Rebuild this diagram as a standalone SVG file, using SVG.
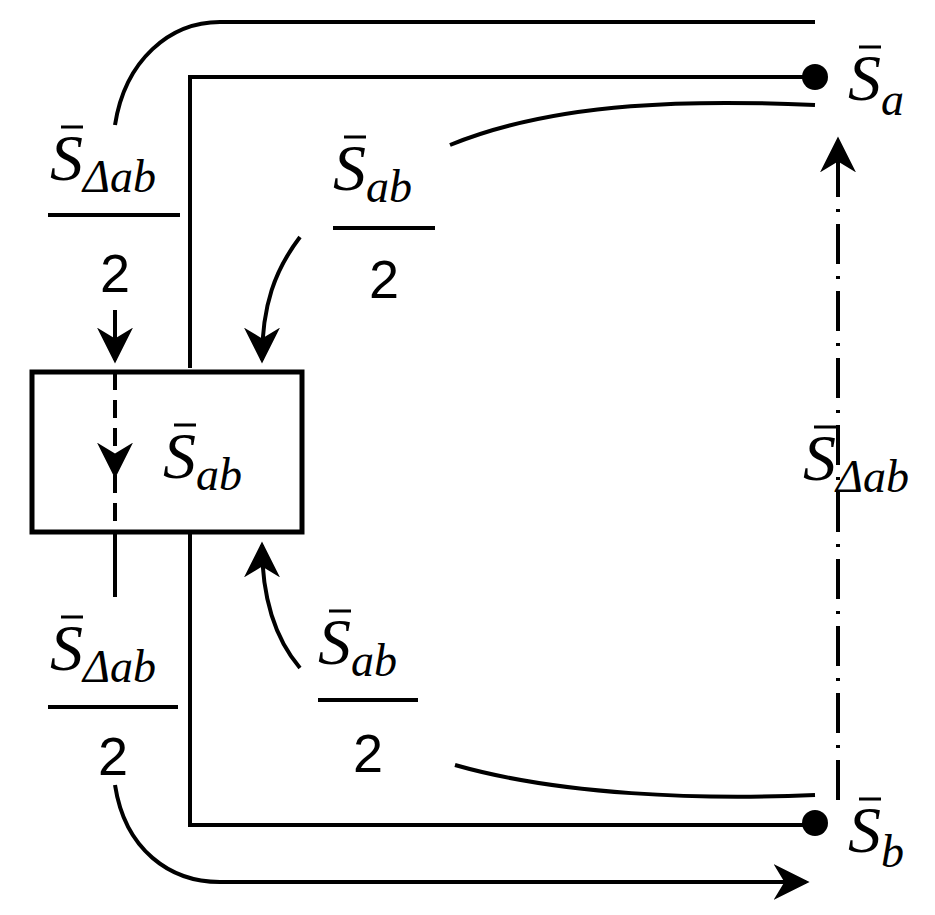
<svg xmlns="http://www.w3.org/2000/svg" width="935" height="915" viewBox="0 0 935 915">
<style>
.l{fill:none;stroke:#000;stroke-width:4}
.t{font-family:"Liberation Serif",serif;font-style:italic;font-size:66px}
.s{font-size:46px}
.n{font-family:"Liberation Sans",sans-serif;font-size:54px}
.b{stroke:#000;stroke-width:3}
</style>
<defs>
<marker id="A" viewBox="0 0 10 10" refX="9" refY="5" markerWidth="9" markerHeight="9" orient="auto"><path d="M0,0L10,5L0,10L3,5z"/></marker>
</defs>
<g id="connectors">
<path class="l" d="M115,125 C125,60 170,22 220,22 L815,22"/>
<path class="l" d="M190,368 L190,77 L815,77"/>
<path class="l" d="M450,145 C560,100 700,100 815,105"/>
<path class="l" d="M300,237 C275,270 262,305 262,360" marker-end="url(#A)"/>
<path class="l" d="M115,310 L115,360" marker-end="url(#A)"/>
<path class="l" d="M115,372 L115,475" stroke-dasharray="18,10" marker-end="url(#A)"/>
<path class="l" d="M115,475 L115,532" stroke-dasharray="18,10"/>
<path class="l" d="M115,532 L115,597"/>
<path class="l" d="M190,532 L190,825 L815,825"/>
<path class="l" d="M300,668 C272,635 262,590 262,545" marker-end="url(#A)"/>
<path class="l" d="M455,765 C560,795 700,800 815,795"/>
<path class="l" d="M115,785 C125,850 170,882 220,882 L806,882" marker-end="url(#A)"/>
<path class="l" d="M838,800 L838,140" stroke-dasharray="40,12,3,12" marker-end="url(#A)"/>
</g>
<g id="box"><rect x="32" y="372" width="270" height="160" fill="none" stroke="#000" stroke-width="5"/>
<text class="t" x="163" y="478">S<tspan class="s" dy="12">ab</tspan></text><line class="b" x1="174" y1="425" x2="196" y2="425"/></g>
<g id="Sa"><circle cx="815" cy="77" r="13"/><text class="t" x="848" y="100">S<tspan class="s" dy="15">a</tspan></text><line class="b" x1="859" y1="47" x2="881" y2="47"/></g>
<g id="Sb"><circle cx="815" cy="823" r="13"/><text class="t" x="848" y="852">S<tspan class="s" dy="15">b</tspan></text><line class="b" x1="859" y1="799" x2="881" y2="799"/></g>
<g id="Sdab"><text class="t" x="803" y="480">S<tspan class="s" dy="12">Δab</tspan></text><line class="b" x1="814" y1="427" x2="836" y2="427"/></g>
<g id="f1"><text class="t" x="50" y="180">S<tspan class="s" dy="12">Δab</tspan></text><line class="b" x1="61" y1="127" x2="83" y2="127"/>
<line x1="48" y1="215" x2="180" y2="215" stroke="#000" stroke-width="4"/><text class="n" x="115" y="292" text-anchor="middle">2</text></g>
<g id="f2"><text class="t" x="333" y="190">S<tspan class="s" dy="12">ab</tspan></text><line class="b" x1="344" y1="137" x2="366" y2="137"/>
<line x1="333" y1="228" x2="435" y2="228" stroke="#000" stroke-width="4"/><text class="n" x="384" y="298" text-anchor="middle">2</text></g>
<g id="f3"><text class="t" x="50" y="670">S<tspan class="s" dy="12">Δab</tspan></text><line class="b" x1="61" y1="617" x2="83" y2="617"/>
<line x1="48" y1="707" x2="178" y2="707" stroke="#000" stroke-width="4"/><text class="n" x="113" y="775" text-anchor="middle">2</text></g>
<g id="f4"><text class="t" x="318" y="664">S<tspan class="s" dy="12">ab</tspan></text><line class="b" x1="329" y1="611" x2="351" y2="611"/>
<line x1="318" y1="700" x2="418" y2="700" stroke="#000" stroke-width="4"/><text class="n" x="368" y="772" text-anchor="middle">2</text></g>
</svg>
